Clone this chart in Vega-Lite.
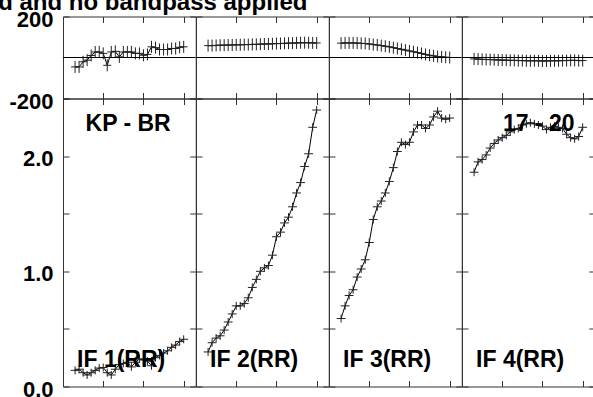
{
  "$schema": "https://vega.github.io/schema/vega-lite/v6.json",
  "padding": {"left": -105, "top": -9.5, "right": 0, "bottom": 0},
  "title": {"text": "Calibrated and no bandpass applied", "anchor": "start", "frame": "bounds", "dx": -113, "offset": -25.5, "baseline": "alphabetic", "font": "Liberation Sans", "fontSize": 24, "fontWeight": "bold", "color": "#000"},
  "datasets": {
    "spec": [
      {"IF":1,"ch":3,"amp":0.14,"phase":-46},{"IF":1,"ch":4,"amp":0.15,"phase":-46},{"IF":1,"ch":5,"amp":0.12,"phase":-21},{"IF":1,"ch":6,"amp":0.10,"phase":-13},{"IF":1,"ch":7,"amp":0.12,"phase":10},{"IF":1,"ch":8,"amp":0.14,"phase":27},{"IF":1,"ch":9,"amp":0.16,"phase":27},{"IF":1,"ch":10,"amp":0.165,"phase":20},{"IF":1,"ch":11,"amp":0.12,"phase":-38},{"IF":1,"ch":12,"amp":0.10,"phase":27},{"IF":1,"ch":13,"amp":0.15,"phase":30},{"IF":1,"ch":14,"amp":0.19,"phase":3},{"IF":1,"ch":15,"amp":0.20,"phase":27},{"IF":1,"ch":16,"amp":0.21,"phase":27},{"IF":1,"ch":17,"amp":0.17,"phase":27},{"IF":1,"ch":18,"amp":0.21,"phase":20},{"IF":1,"ch":19,"amp":0.24,"phase":20},{"IF":1,"ch":20,"amp":0.23,"phase":11},{"IF":1,"ch":21,"amp":0.22,"phase":15},{"IF":1,"ch":22,"amp":0.18,"phase":52},{"IF":1,"ch":23,"amp":0.25,"phase":48},{"IF":1,"ch":24,"amp":0.27,"phase":39},{"IF":1,"ch":25,"amp":0.29,"phase":39},{"IF":1,"ch":26,"amp":0.31,"phase":39},{"IF":1,"ch":27,"amp":0.34,"phase":44},{"IF":1,"ch":28,"amp":0.36,"phase":44},{"IF":1,"ch":29,"amp":0.39,"phase":50},{"IF":1,"ch":30,"amp":0.41,"phase":52},
      {"IF":2,"ch":3,"amp":0.30,"phase":58},{"IF":2,"ch":4,"amp":0.38,"phase":58},{"IF":2,"ch":5,"amp":0.42,"phase":59},{"IF":2,"ch":6,"amp":0.44,"phase":60},{"IF":2,"ch":7,"amp":0.49,"phase":60},{"IF":2,"ch":8,"amp":0.56,"phase":61},{"IF":2,"ch":9,"amp":0.63,"phase":61},{"IF":2,"ch":10,"amp":0.70,"phase":62},{"IF":2,"ch":11,"amp":0.70,"phase":62},{"IF":2,"ch":12,"amp":0.72,"phase":63},{"IF":2,"ch":13,"amp":0.77,"phase":63},{"IF":2,"ch":14,"amp":0.86,"phase":64},{"IF":2,"ch":15,"amp":0.93,"phase":64},{"IF":2,"ch":16,"amp":1.00,"phase":65},{"IF":2,"ch":17,"amp":1.03,"phase":66},{"IF":2,"ch":18,"amp":1.05,"phase":66},{"IF":2,"ch":19,"amp":1.14,"phase":67},{"IF":2,"ch":20,"amp":1.30,"phase":68},{"IF":2,"ch":21,"amp":1.34,"phase":68},{"IF":2,"ch":22,"amp":1.42,"phase":69},{"IF":2,"ch":23,"amp":1.47,"phase":70},{"IF":2,"ch":24,"amp":1.56,"phase":70},{"IF":2,"ch":25,"amp":1.68,"phase":71},{"IF":2,"ch":26,"amp":1.77,"phase":72},{"IF":2,"ch":27,"amp":1.91,"phase":72},{"IF":2,"ch":28,"amp":2.02,"phase":72},{"IF":2,"ch":29,"amp":2.25,"phase":71},{"IF":2,"ch":30,"amp":2.40,"phase":71},
      {"IF":3,"ch":3,"amp":0.59,"phase":70},{"IF":3,"ch":4,"amp":0.70,"phase":71},{"IF":3,"ch":5,"amp":0.79,"phase":71},{"IF":3,"ch":6,"amp":0.84,"phase":71},{"IF":3,"ch":7,"amp":0.95,"phase":70},{"IF":3,"ch":8,"amp":1.02,"phase":69},{"IF":3,"ch":9,"amp":1.10,"phase":68},{"IF":3,"ch":10,"amp":1.25,"phase":66},{"IF":3,"ch":11,"amp":1.45,"phase":63},{"IF":3,"ch":12,"amp":1.56,"phase":61},{"IF":3,"ch":13,"amp":1.61,"phase":58},{"IF":3,"ch":14,"amp":1.68,"phase":55},{"IF":3,"ch":15,"amp":1.78,"phase":52},{"IF":3,"ch":16,"amp":1.90,"phase":48},{"IF":3,"ch":17,"amp":2.04,"phase":44},{"IF":3,"ch":18,"amp":2.12,"phase":40},{"IF":3,"ch":19,"amp":2.10,"phase":36},{"IF":3,"ch":20,"amp":2.12,"phase":32},{"IF":3,"ch":21,"amp":2.21,"phase":28},{"IF":3,"ch":22,"amp":2.27,"phase":24},{"IF":3,"ch":23,"amp":2.27,"phase":20},{"IF":3,"ch":24,"amp":2.24,"phase":15},{"IF":3,"ch":25,"amp":2.27,"phase":11},{"IF":3,"ch":26,"amp":2.34,"phase":8},{"IF":3,"ch":27,"amp":2.39,"phase":5},{"IF":3,"ch":28,"amp":2.33,"phase":3},{"IF":3,"ch":29,"amp":2.32,"phase":1},{"IF":3,"ch":30,"amp":2.33,"phase":0},
      {"IF":4,"ch":3,"amp":1.86,"phase":-7},{"IF":4,"ch":4,"amp":1.95,"phase":-8},{"IF":4,"ch":5,"amp":1.97,"phase":-9},{"IF":4,"ch":6,"amp":2.01,"phase":-10},{"IF":4,"ch":7,"amp":2.07,"phase":-10},{"IF":4,"ch":8,"amp":2.11,"phase":-11},{"IF":4,"ch":9,"amp":2.14,"phase":-12},{"IF":4,"ch":10,"amp":2.16,"phase":-13},{"IF":4,"ch":11,"amp":2.18,"phase":-13},{"IF":4,"ch":12,"amp":2.21,"phase":-14},{"IF":4,"ch":13,"amp":2.23,"phase":-14},{"IF":4,"ch":14,"amp":2.24,"phase":-15},{"IF":4,"ch":15,"amp":2.27,"phase":-15},{"IF":4,"ch":16,"amp":2.28,"phase":-16},{"IF":4,"ch":17,"amp":2.29,"phase":-16},{"IF":4,"ch":18,"amp":2.28,"phase":-16},{"IF":4,"ch":19,"amp":2.27,"phase":-16},{"IF":4,"ch":20,"amp":2.26,"phase":-17},{"IF":4,"ch":21,"amp":2.23,"phase":-17},{"IF":4,"ch":22,"amp":2.25,"phase":-16},{"IF":4,"ch":23,"amp":2.26,"phase":-16},{"IF":4,"ch":24,"amp":2.25,"phase":-16},{"IF":4,"ch":25,"amp":2.24,"phase":-15},{"IF":4,"ch":26,"amp":2.19,"phase":-15},{"IF":4,"ch":27,"amp":2.16,"phase":-14},{"IF":4,"ch":28,"amp":2.15,"phase":-14},{"IF":4,"ch":29,"amp":2.17,"phase":-15},{"IF":4,"ch":30,"amp":2.25,"phase":-15}
    ]
  },
  "data": {"name": "spec"},
  "bounds": "flush",
  "spacing": 0,
  "columns": 4,
  "concat": [
    {
      "width": 132.75, "height": 82,
      "resolve": {"axis": {"x": "independent", "y": "independent"}},
      "layer": [
        {"transform": [{"filter": "datum.IF == 1"}], "mark": {"type": "line", "color": "#000", "strokeWidth": 1},
         "encoding": {
           "x": {"field": "ch", "type": "quantitative", "scale": {"domain": [0, 33], "nice": false, "zero": false}, "axis": {"orient": "bottom", "values": [10, 20, 30], "labels": false, "title": null}},
           "y": {"field": "phase", "type": "quantitative", "scale": {"domain": [-200, 200], "nice": false}, "axis": {"orient": "left", "values": [-200, 200], "title": null, "labelOffset": 3, "labelExpr": "toString(datum.value)"}}}},
        {"transform": [{"filter": "datum.IF == 1"}], "mark": {"type": "point", "shape": "M-1,0H1M0,-1.5V1.5", "size": 64, "filled": false, "stroke": "#222", "strokeWidth": 1, "opacity": 1},
         "encoding": {
           "x": {"field": "ch", "type": "quantitative", "axis": {"orient": "top", "values": [10, 20, 30], "labels": false, "title": null}},
           "y": {"field": "phase", "type": "quantitative", "axis": {"orient": "right", "values": [-200, 200], "labels": false, "title": null}}}},
        {"data": {"values": [{"z": 0}]}, "mark": {"type": "rule", "color": "#000", "strokeWidth": 1},
         "encoding": {"y": {"field": "z", "type": "quantitative", "axis": null}}}
      ]
    },
    {
      "width": 132.75, "height": 82,
      "resolve": {"axis": {"x": "independent", "y": "independent"}},
      "layer": [
        {"transform": [{"filter": "datum.IF == 2"}], "mark": {"type": "line", "color": "#000", "strokeWidth": 1},
         "encoding": {
           "x": {"field": "ch", "type": "quantitative", "scale": {"domain": [0, 33], "nice": false, "zero": false}, "axis": {"orient": "bottom", "values": [10, 20, 30], "labels": false, "title": null}},
           "y": {"field": "phase", "type": "quantitative", "scale": {"domain": [-200, 200], "nice": false}, "axis": {"orient": "left", "values": [-200, 200], "labels": false, "title": null}}}},
        {"transform": [{"filter": "datum.IF == 2"}], "mark": {"type": "point", "shape": "M-1,0H1M0,-1.5V1.5", "size": 64, "filled": false, "stroke": "#222", "strokeWidth": 1, "opacity": 1},
         "encoding": {
           "x": {"field": "ch", "type": "quantitative", "axis": {"orient": "top", "values": [10, 20, 30], "labels": false, "title": null}},
           "y": {"field": "phase", "type": "quantitative", "axis": {"orient": "right", "values": [-200, 200], "labels": false, "title": null}}}},
        {"data": {"values": [{"z": 0}]}, "mark": {"type": "rule", "color": "#000", "strokeWidth": 1},
         "encoding": {"y": {"field": "z", "type": "quantitative", "axis": null}}}
      ]
    },
    {
      "width": 132.75, "height": 82,
      "resolve": {"axis": {"x": "independent", "y": "independent"}},
      "layer": [
        {"transform": [{"filter": "datum.IF == 3"}], "mark": {"type": "line", "color": "#000", "strokeWidth": 1},
         "encoding": {
           "x": {"field": "ch", "type": "quantitative", "scale": {"domain": [0, 33], "nice": false, "zero": false}, "axis": {"orient": "bottom", "values": [10, 20, 30], "labels": false, "title": null}},
           "y": {"field": "phase", "type": "quantitative", "scale": {"domain": [-200, 200], "nice": false}, "axis": {"orient": "left", "values": [-200, 200], "labels": false, "title": null}}}},
        {"transform": [{"filter": "datum.IF == 3"}], "mark": {"type": "point", "shape": "M-1,0H1M0,-1.5V1.5", "size": 64, "filled": false, "stroke": "#222", "strokeWidth": 1, "opacity": 1},
         "encoding": {
           "x": {"field": "ch", "type": "quantitative", "axis": {"orient": "top", "values": [10, 20, 30], "labels": false, "title": null}},
           "y": {"field": "phase", "type": "quantitative", "axis": {"orient": "right", "values": [-200, 200], "labels": false, "title": null}}}},
        {"data": {"values": [{"z": 0}]}, "mark": {"type": "rule", "color": "#000", "strokeWidth": 1},
         "encoding": {"y": {"field": "z", "type": "quantitative", "axis": null}}}
      ]
    },
    {
      "width": 132.75, "height": 82,
      "resolve": {"axis": {"x": "independent", "y": "independent"}},
      "layer": [
        {"transform": [{"filter": "datum.IF == 4"}], "mark": {"type": "line", "color": "#000", "strokeWidth": 1},
         "encoding": {
           "x": {"field": "ch", "type": "quantitative", "scale": {"domain": [0, 33], "nice": false, "zero": false}, "axis": {"orient": "bottom", "values": [10, 20, 30], "labels": false, "title": null}},
           "y": {"field": "phase", "type": "quantitative", "scale": {"domain": [-200, 200], "nice": false}, "axis": {"orient": "left", "values": [-200, 200], "labels": false, "title": null}}}},
        {"transform": [{"filter": "datum.IF == 4"}], "mark": {"type": "point", "shape": "M-1,0H1M0,-1.5V1.5", "size": 64, "filled": false, "stroke": "#222", "strokeWidth": 1, "opacity": 1},
         "encoding": {
           "x": {"field": "ch", "type": "quantitative", "axis": {"orient": "top", "values": [10, 20, 30], "labels": false, "title": null}},
           "y": {"field": "phase", "type": "quantitative", "axis": {"orient": "right", "values": [-200, 200], "labels": false, "title": null}}}},
        {"data": {"values": [{"z": 0}]}, "mark": {"type": "rule", "color": "#000", "strokeWidth": 1},
         "encoding": {"y": {"field": "z", "type": "quantitative", "axis": null}}}
      ]
    },
    {
      "width": 132.75, "height": 288,
      "resolve": {"axis": {"x": "independent", "y": "independent"}},
      "layer": [
        {"transform": [{"filter": "datum.IF == 1"}], "mark": {"type": "line", "color": "#000", "strokeWidth": 1},
         "encoding": {
           "x": {"field": "ch", "type": "quantitative", "scale": {"domain": [0, 33], "nice": false, "zero": false}, "axis": {"orient": "bottom", "values": [10, 20, 30], "labels": false, "title": null}},
           "y": {"field": "amp", "type": "quantitative", "scale": {"domain": [0, 2.5], "nice": false}, "axis": {"orient": "left", "values": [0, 0.5, 1, 1.5, 2, 2.5], "title": null, "labelOffset": 2.5, "labelExpr": "datum.value % 1 == 0 ? format(datum.value, '.1f') : ''"}}}},
        {"transform": [{"filter": "datum.IF == 1"}], "mark": {"type": "point", "shape": "M-1.1,0H1.1M0,-1V1", "size": 64, "filled": false, "stroke": "#222", "strokeWidth": 1, "opacity": 1},
         "encoding": {
           "x": {"field": "ch", "type": "quantitative", "axis": {"orient": "top", "values": [10, 20, 30], "labels": false, "title": null}},
           "y": {"field": "amp", "type": "quantitative", "axis": {"orient": "right", "values": [0, 0.5, 1, 1.5, 2, 2.5], "labels": false, "title": null}}}},
        {"data": {"values": [{"t": "IF 1(RR)", "cx": 3.5, "cy": 0.165}, {"t": "KP - BR", "cx": 5.6, "cy": 2.215}]}, "mark": {"type": "text", "align": "left", "baseline": "alphabetic", "font": "Liberation Sans", "fontSize": 23, "fontWeight": "bold", "color": "#000"},
         "encoding": {"x": {"field": "cx", "type": "quantitative", "axis": null}, "y": {"field": "cy", "type": "quantitative", "axis": null}, "text": {"field": "t"}}}
      ]
    },
    {
      "width": 132.75, "height": 288,
      "resolve": {"axis": {"x": "independent", "y": "independent"}},
      "layer": [
        {"transform": [{"filter": "datum.IF == 2"}], "mark": {"type": "line", "color": "#000", "strokeWidth": 1},
         "encoding": {
           "x": {"field": "ch", "type": "quantitative", "scale": {"domain": [0, 33], "nice": false, "zero": false}, "axis": {"orient": "bottom", "values": [10, 20, 30], "labels": false, "title": null}},
           "y": {"field": "amp", "type": "quantitative", "scale": {"domain": [0, 2.5], "nice": false}, "axis": {"orient": "left", "values": [0, 0.5, 1, 1.5, 2, 2.5], "labels": false, "title": null}}}},
        {"transform": [{"filter": "datum.IF == 2"}], "mark": {"type": "point", "shape": "M-1.1,0H1.1M0,-1V1", "size": 64, "filled": false, "stroke": "#222", "strokeWidth": 1, "opacity": 1},
         "encoding": {
           "x": {"field": "ch", "type": "quantitative", "axis": {"orient": "top", "values": [10, 20, 30], "labels": false, "title": null}},
           "y": {"field": "amp", "type": "quantitative", "axis": {"orient": "right", "values": [0, 0.5, 1, 1.5, 2, 2.5], "labels": false, "title": null}}}},
        {"data": {"values": [{"t": "IF 2(RR)", "cx": 3.5, "cy": 0.165}]}, "mark": {"type": "text", "align": "left", "baseline": "alphabetic", "font": "Liberation Sans", "fontSize": 23, "fontWeight": "bold", "color": "#000"},
         "encoding": {"x": {"field": "cx", "type": "quantitative", "axis": null}, "y": {"field": "cy", "type": "quantitative", "axis": null}, "text": {"field": "t"}}}
      ]
    },
    {
      "width": 132.75, "height": 288,
      "resolve": {"axis": {"x": "independent", "y": "independent"}},
      "layer": [
        {"transform": [{"filter": "datum.IF == 3"}], "mark": {"type": "line", "color": "#000", "strokeWidth": 1},
         "encoding": {
           "x": {"field": "ch", "type": "quantitative", "scale": {"domain": [0, 33], "nice": false, "zero": false}, "axis": {"orient": "bottom", "values": [10, 20, 30], "labels": false, "title": null}},
           "y": {"field": "amp", "type": "quantitative", "scale": {"domain": [0, 2.5], "nice": false}, "axis": {"orient": "left", "values": [0, 0.5, 1, 1.5, 2, 2.5], "labels": false, "title": null}}}},
        {"transform": [{"filter": "datum.IF == 3"}], "mark": {"type": "point", "shape": "M-1.1,0H1.1M0,-1V1", "size": 64, "filled": false, "stroke": "#222", "strokeWidth": 1, "opacity": 1},
         "encoding": {
           "x": {"field": "ch", "type": "quantitative", "axis": {"orient": "top", "values": [10, 20, 30], "labels": false, "title": null}},
           "y": {"field": "amp", "type": "quantitative", "axis": {"orient": "right", "values": [0, 0.5, 1, 1.5, 2, 2.5], "labels": false, "title": null}}}},
        {"data": {"values": [{"t": "IF 3(RR)", "cx": 3.5, "cy": 0.165}]}, "mark": {"type": "text", "align": "left", "baseline": "alphabetic", "font": "Liberation Sans", "fontSize": 23, "fontWeight": "bold", "color": "#000"},
         "encoding": {"x": {"field": "cx", "type": "quantitative", "axis": null}, "y": {"field": "cy", "type": "quantitative", "axis": null}, "text": {"field": "t"}}}
      ]
    },
    {
      "width": 132.75, "height": 288,
      "resolve": {"axis": {"x": "independent", "y": "independent"}},
      "layer": [
        {"transform": [{"filter": "datum.IF == 4"}], "mark": {"type": "line", "color": "#000", "strokeWidth": 1},
         "encoding": {
           "x": {"field": "ch", "type": "quantitative", "scale": {"domain": [0, 33], "nice": false, "zero": false}, "axis": {"orient": "bottom", "values": [10, 20, 30], "labels": false, "title": null}},
           "y": {"field": "amp", "type": "quantitative", "scale": {"domain": [0, 2.5], "nice": false}, "axis": {"orient": "left", "values": [0, 0.5, 1, 1.5, 2, 2.5], "labels": false, "title": null}}}},
        {"transform": [{"filter": "datum.IF == 4"}], "mark": {"type": "point", "shape": "M-1.1,0H1.1M0,-1V1", "size": 64, "filled": false, "stroke": "#222", "strokeWidth": 1, "opacity": 1},
         "encoding": {
           "x": {"field": "ch", "type": "quantitative", "axis": {"orient": "top", "values": [10, 20, 30], "labels": false, "title": null}},
           "y": {"field": "amp", "type": "quantitative", "axis": {"orient": "right", "values": [0, 0.5, 1, 1.5, 2, 2.5], "labels": false, "title": null}}}},
        {"data": {"values": [{"t": "IF 4(RR)", "cx": 3.5, "cy": 0.165}, {"t": "17 - 20", "cx": 10.2, "cy": 2.215}]}, "mark": {"type": "text", "align": "left", "baseline": "alphabetic", "font": "Liberation Sans", "fontSize": 23, "fontWeight": "bold", "color": "#000"},
         "encoding": {"x": {"field": "cx", "type": "quantitative", "axis": null}, "y": {"field": "cy", "type": "quantitative", "axis": null}, "text": {"field": "t"}}}
      ]
    }
  ],
  "config": {
    "font": "Liberation Sans",
    "view": {"stroke": "#333", "strokeWidth": 1},
    "axis": {"domain": false, "grid": false, "ticks": true, "tickSize": -6, "tickColor": "#333", "tickWidth": 1, "labelFont": "Liberation Sans", "labelFontSize": 22, "labelFontWeight": "bold", "labelColor": "#000", "labelPadding": 16, "labelOverlap": false, "labelFlush": false, "labelBound": false}
  }
}
